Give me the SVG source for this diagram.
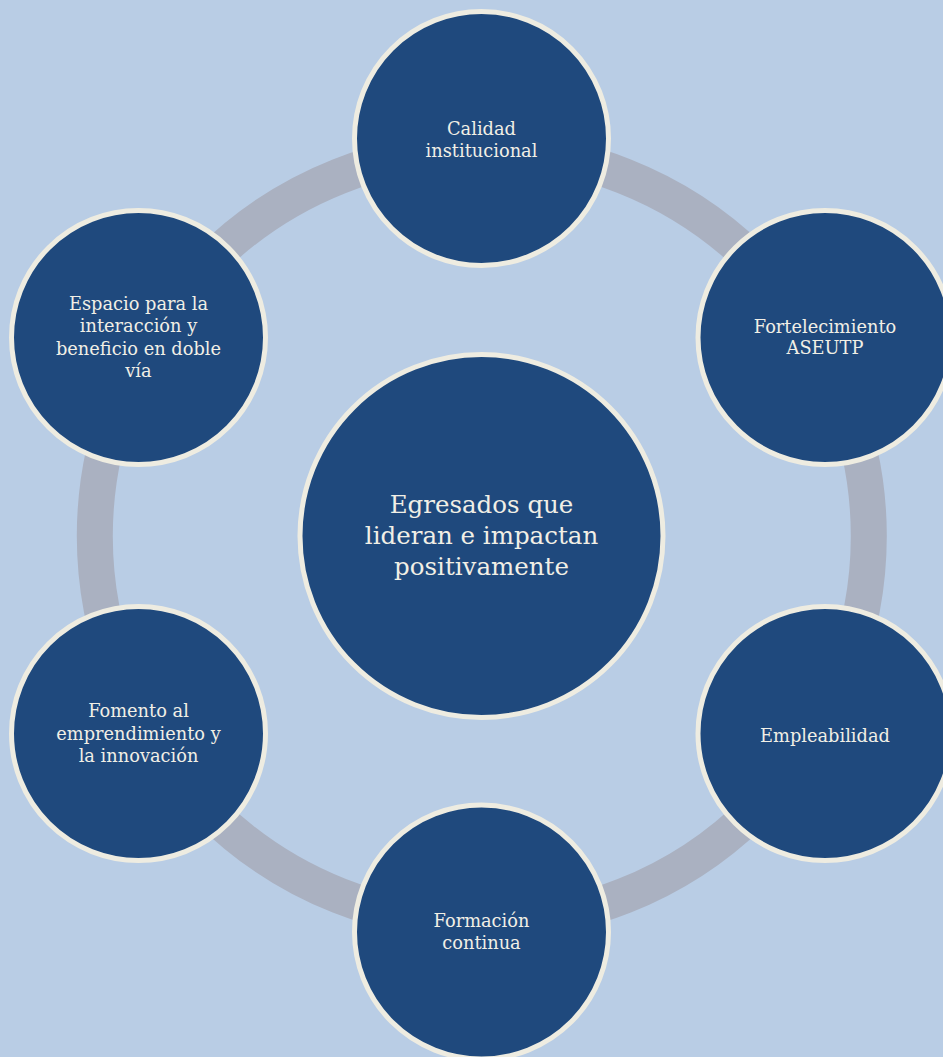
<svg xmlns="http://www.w3.org/2000/svg" width="943" height="1057" viewBox="0 0 943 1057">
<style>
.bg{fill:#B9CDE5}
.ring{fill:none;stroke:#AAB1C1;stroke-width:36}
.node{fill:#1F497D;stroke:#EEECE1;stroke-width:5}
.t{font-family:"DejaVu Serif","Liberation Serif",serif;font-size:17.8px;fill:#F1EFE6;text-anchor:middle}
.tc{font-family:"DejaVu Serif","Liberation Serif",serif;font-size:24.5px;fill:#F1EFE6;text-anchor:middle}
</style>
<rect class="bg" x="0" y="0" width="943" height="1057"/>
<g id="connectors">
<circle class="ring" cx="481.8" cy="536" r="387"/>
</g>
<g id="center">
<circle class="node" cx="481.5" cy="536" r="181.5"/>
<text class="tc" x="481.5" y="512.7">Egresados que</text>
<text class="tc" x="481.5" y="544">lideran e impactan</text>
<text class="tc" x="481.5" y="575.3">positivamente</text>
</g>
<g id="calidad">
<circle class="node" cx="481.5" cy="138.5" r="127"/>
<text class="t" x="481.5" y="135">Calidad</text>
<text class="t" x="481.5" y="157.3">institucional</text>
</g>
<g id="fortalecimiento">
<circle class="node" cx="825" cy="337.5" r="127"/>
<text class="t" x="825" y="332.7">Fortelecimiento</text>
<text class="t" x="825" y="354.3">ASEUTP</text>
</g>
<g id="empleabilidad">
<circle class="node" cx="825" cy="733.5" r="127"/>
<text class="t" x="825" y="741.7">Empleabilidad</text>
</g>
<g id="formacion">
<circle class="node" cx="481.5" cy="932" r="127"/>
<text class="t" x="481.5" y="927.3">Formación</text>
<text class="t" x="481.5" y="949.3">continua</text>
</g>
<g id="fomento">
<circle class="node" cx="138.5" cy="733.5" r="127"/>
<text class="t" x="138.5" y="717.3">Fomento al</text>
<text class="t" x="138.5" y="740">emprendimiento y</text>
<text class="t" x="138.5" y="762.3">la innovación</text>
</g>
<g id="espacio">
<circle class="node" cx="138.5" cy="337.5" r="127"/>
<text class="t" x="138.5" y="310">Espacio para la</text>
<text class="t" x="138.5" y="332.3">interacción y</text>
<text class="t" x="138.5" y="354.5">beneficio en doble</text>
<text class="t" x="138.5" y="376.7">vía</text>
</g>
</svg>
